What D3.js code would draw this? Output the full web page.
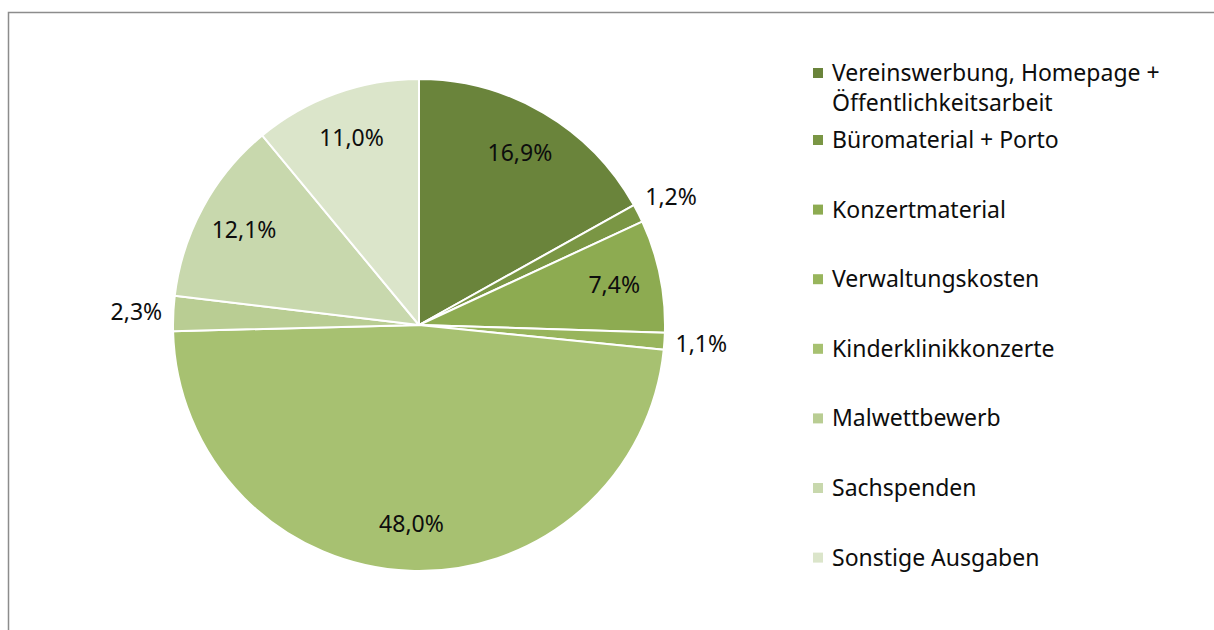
<!DOCTYPE html>
<html>
<head>
<meta charset="utf-8">
<script src="https://cdn.jsdelivr.net/npm/d3@7"></script>
<style>
  html, body { margin: 0; padding: 0; background: #fff; overflow: hidden; }
  text { font-family: "Noto Sans", sans-serif; fill: #0d0d0d; }
</style>
</head>
<body>
<svg id="chart" width="1214" height="630"></svg>
<script>
// --- dati ---
const categories = [
  "Vereinswerbung, Homepage + Öffentlichkeitsarbeit",
  "Büromaterial + Porto",
  "Konzertmaterial",
  "Verwaltungskosten",
  "Kinderklinikkonzerte",
  "Malwettbewerb",
  "Sachspenden",
  "Sonstige Ausgaben"
];
const values = [16.9, 1.2, 7.4, 1.1, 48.0, 2.3, 12.1, 11.0];
const colors = ["#6a843b", "#7a9644", "#8dab51", "#98b55c", "#a7c171", "#b9cd93", "#c8d8ad", "#dbe5ca"];
const legendLines = [
  ["Vereinswerbung, Homepage +", "Öffentlichkeitsarbeit"],
  ["Büromaterial + Porto"],
  ["Konzertmaterial"],
  ["Verwaltungskosten"],
  ["Kinderklinikkonzerte"],
  ["Malwettbewerb"],
  ["Sachspenden"],
  ["Sonstige Ausgaben"]
];

const FS = "23px";
const svg = d3.select("#chart");

// cornice grigia (tagliata a destra e in basso come nell'originale)
svg.append("rect")
  .attr("x", 8.5).attr("y", 12.5)
  .attr("width", 1300).attr("height", 700)
  .attr("fill", "none")
  .attr("stroke", "#8c8c8c")
  .attr("stroke-width", 1.5);

const cx = 419, cy = 325, R = 246;
const data = categories.map((c, i) => ({ name: c, value: values[i], color: colors[i] }));

const pie = d3.pie().value(d => d.value).sort(null);
const arcs = pie(data);
const arc = d3.arc().innerRadius(0).outerRadius(R);

const g = svg.append("g").attr("transform", `translate(${cx},${cy})`);

g.selectAll("path.slice")
  .data(arcs)
  .enter()
  .append("path")
  .attr("class", "slice")
  .attr("d", arc)
  .attr("fill", d => d.data.color)
  .attr("stroke", "#fff")
  .attr("stroke-width", 2)
  .attr("stroke-linejoin", "round");

// etichette: dentro per le fette grandi, fuori per quelle piccole
const fmt = v => v.toFixed(1).replace(".", ",") + "%";
g.selectAll("text.lbl")
  .data(arcs)
  .enter()
  .append("text")
  .attr("class", "lbl")
  .attr("text-anchor", "middle")
  .attr("dy", "0.35em")
  .style("font-size", FS)
  .attr("transform", d => {
    const a = (d.startAngle + d.endAngle) / 2;
    const r = d.data.value < 3 ? R * 1.15 : R * 0.81;
    return `translate(${r * Math.sin(a)},${-r * Math.cos(a)})`;
  })
  .text(d => fmt(d.data.value));

// legenda
const lx = 813, ly0 = 73, step = 69.6, lineH = 30;
const leg = svg.append("g");
legendLines.forEach((lines, i) => {
  const y = i === 0 ? ly0 : 140 + (i - 1) * step;
  leg.append("rect")
    .attr("x", lx).attr("y", y - 5)
    .attr("width", 10).attr("height", 10)
    .attr("fill", colors[i]);
  const t = leg.append("text")
    .style("font-size", FS);
  lines.forEach((l, j) => {
    t.append("tspan").attr("x", lx + 19).attr("y", y + j * lineH).attr("dy", "0.35em").text(l);
  });
});
</script>
</body>
</html>
